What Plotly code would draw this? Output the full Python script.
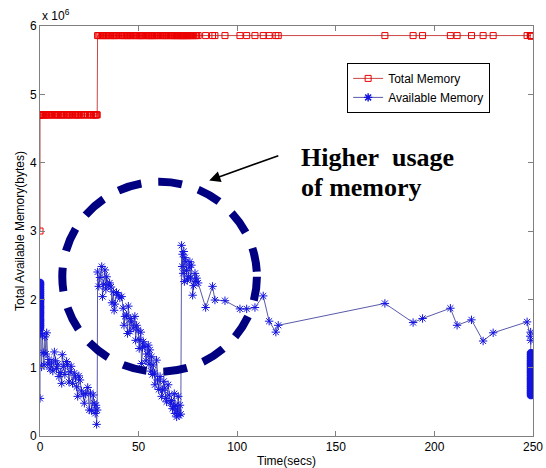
import plotly.graph_objects as go

# ---------------- data (memory values in units of 10^6 bytes) ----------------
# start-up burst at t = 0
seg0_time = [0, 0, 0, 0, 0, 0, 0, 0, 0, 0, 0, 0, 0, 0, 0, 0, 0, 0, 0, 0, 0, 0, 0, 0, 0, 0]
seg0_total = [3.00, 4.70, 4.70, 4.70, 4.70, 4.70, 4.70, 4.70, 4.70, 4.70, 4.70, 4.70, 4.70,
              4.70, 4.70, 4.70, 4.70, 4.70, 4.70, 4.70, 4.70, 4.70, 4.70, 4.70, 4.70, 4.70]
seg0_avail = [0.55, 1.58, 1.61, 1.63, 1.66, 1.69, 1.71, 1.74, 1.77, 1.80, 1.82, 1.85, 1.88,
              1.90, 1.93, 1.96, 1.99, 2.01, 2.04, 2.07, 2.10, 2.13, 2.16, 2.19, 2.22, 2.24]

# first decay (0 - 29 s)
seg1_time = [0.4, 0.8, 1.2, 1.6, 2.0, 2.5, 3.0, 3.4, 4.0, 4.6, 5.1, 5.8, 6.5, 7.3, 7.9, 8.4,
             9.0, 9.6, 10.3, 11.0, 11.3, 12.0, 12.6, 13.5, 14.0, 14.7, 15.2, 15.8, 16.5, 17.4,
             18.0, 18.6, 19.1, 19.7, 20.3, 21.0, 22.0, 22.5, 23.2, 24.2, 25.0, 25.6, 26.2, 27.0,
             27.5, 28.0, 28.4, 28.7, 29.0]
seg1_total = [4.70, 4.70, 4.70, 4.70, 4.70, 4.70, 4.70, 4.70, 4.70, 4.70, 4.70, 4.70, 4.70, 4.70, 4.70, 4.70,
              4.70, 4.70, 4.70, 4.70, 4.70, 4.70, 4.70, 4.70, 4.70, 4.70, 4.70, 4.70, 4.70, 4.70,
              4.70, 4.70, 4.70, 4.70, 4.70, 4.70, 4.70, 4.70, 4.70, 4.70, 4.70, 4.70, 4.70, 4.70,
              4.70, 4.70, 4.70, 4.70, 4.70]
seg1_avail = [1.50, 1.01, 1.48, 1.22, 1.04, 1.45, 1.20, 1.51, 1.05, 1.12, 0.98, 1.07, 0.95, 1.23, 1.10, 0.99,
              1.05, 0.87, 0.93, 0.77, 1.19, 1.02, 0.90, 1.09, 1.05, 0.79, 0.94, 1.02, 0.77, 0.92,
              0.85, 0.72, 0.58, 0.88, 0.82, 0.66, 0.60, 0.48, 0.62, 0.71, 0.38, 0.63, 0.37, 0.60,
              0.48, 0.33, 0.45, 0.17, 0.38]

# second decay (29 - 71.5 s)
seg2_time = [29.2, 29.8, 30.4, 31.3, 31.7, 32.3, 32.9, 33.4, 33.8, 34.6, 35.3, 36.0, 36.5, 37.2,
             37.6, 38.0, 38.8, 39.7, 40.5, 41.4, 42.2, 42.6, 43.1, 43.9, 44.4, 44.8, 45.6, 46.0,
             46.5, 47.3, 48.1, 48.5, 49.0, 49.8, 50.3, 50.7, 51.1, 51.5, 52.0, 52.4, 53.2, 53.8,
             54.3, 54.9, 55.3, 55.7, 56.2, 56.6, 57.0, 57.4, 58.0, 58.3, 59.1, 59.6, 60.2, 60.9,
             61.7, 62.2, 62.8, 63.3, 63.8, 64.2, 65.0, 65.5, 66.2, 66.7, 67.2, 67.6, 68.1, 68.4,
             68.9, 69.3, 69.7, 70.1, 70.5, 71.0, 71.4]
seg2_total = [5.86, 5.86, 5.86, 5.86, 5.86, 5.86, 5.86, 5.86, 5.86, 5.86, 5.86, 5.86, 5.86, 5.86,
              5.86, 5.86, 5.86, 5.86, 5.86, 5.86, 5.86, 5.86, 5.86, 5.86, 5.86, 5.86, 5.86, 5.86,
              5.86, 5.86, 5.86, 5.86, 5.86, 5.86, 5.86, 5.86, 5.86, 5.86, 5.86, 5.86, 5.86, 5.86,
              5.86, 5.86, 5.86, 5.86, 5.86, 5.86, 5.86, 5.86, 5.86, 5.86, 5.86, 5.86, 5.86, 5.86,
              5.86, 5.86, 5.86, 5.86, 5.86, 5.86, 5.86, 5.86, 5.86, 5.86, 5.86, 5.86, 5.86, 5.86,
              5.86, 5.86, 5.86, 5.86, 5.86, 5.86, 5.86]
seg2_avail = [2.40, 2.19, 2.32, 2.48, 2.04, 2.22, 2.43, 2.15, 2.33, 2.21, 2.24, 2.18, 1.95, 2.11,
              1.84, 1.93, 2.10, 2.06, 2.02, 2.04, 1.87, 1.62, 1.75, 1.77, 1.50, 1.90, 1.53, 1.72,
              1.67, 1.58, 1.75, 1.40, 1.62, 1.55, 1.28, 1.41, 1.52, 1.06, 1.30, 1.38, 1.31, 1.10,
              1.20, 1.33, 1.05, 1.26, 0.95, 1.16, 0.90, 1.04, 0.92, 0.75, 1.11, 0.82, 0.68, 0.87,
              0.58, 0.67, 0.80, 0.70, 0.55, 0.50, 0.75, 0.60, 0.48, 0.52, 0.40, 0.43, 0.62, 0.33,
              0.45, 0.28, 0.38, 0.58, 0.30, 0.45, 0.32]

# third burst and the sparse tail (71.8 - 248.9 s)
seg3_time = [71.8, 72.1, 72.3, 72.6, 72.9, 73.2, 73.5, 74.0, 74.3, 74.7, 75.2, 75.6, 76.0, 76.3,
             76.8, 77.4, 77.9, 78.6, 79.0, 79.4, 80.2,
             84.0, 87.5, 88.7, 93.8, 101.4, 104.8, 109.0, 113.2, 116.2, 119.6, 120.8,
             174.9, 189.2, 194.0, 208.1, 211.5, 218.8, 224.7, 229.8, 247.0,
             248.6, 248.8, 248.9]
seg3_total = [5.86, 5.86, 5.86, 5.86, 5.86, 5.86, 5.86, 5.86, 5.86, 5.86, 5.86, 5.86, 5.86, 5.86,
              5.86, 5.86, 5.86, 5.86, 5.86, 5.86, 5.86,
              5.86, 5.86, 5.86, 5.86, 5.86, 5.86, 5.86, 5.86, 5.86, 5.86, 5.86,
              5.86, 5.86, 5.86, 5.86, 5.86, 5.86, 5.86, 5.86, 5.86,
              5.86, 5.86, 5.86]
seg3_avail = [2.79, 2.48, 2.66, 2.38, 2.70, 2.26, 2.61, 2.55, 2.42, 2.28, 2.33, 2.47, 2.55, 2.31,
              2.50, 2.06, 2.20, 2.38, 2.26, 2.31, 2.24,
              1.88, 2.19, 1.99, 1.98, 1.86, 1.86, 1.88, 2.05, 1.68, 1.52, 1.62,
              1.94, 1.66, 1.72, 1.87, 1.62, 1.70, 1.39, 1.51, 1.67,
              1.46, 1.52, 1.40]

# final burst at t = 249
seg4_time = [249, 249, 249, 249, 249, 249, 249, 249, 249, 249, 249, 249, 249, 249, 249, 249,
             249, 249, 249, 249, 249, 249, 249]
seg4_total = [5.86, 5.86, 5.86, 5.86, 5.86, 5.86, 5.86, 5.86, 5.86, 5.86, 5.86, 5.86, 5.86,
              5.86, 5.86, 5.86, 5.86, 5.86, 5.86, 5.86, 5.86, 5.86, 5.86]
seg4_avail = [1.21, 1.18, 1.15, 1.12, 1.09, 1.06, 1.04, 1.01, 0.98, 0.95, 0.93, 0.90, 0.87,
              0.84, 0.82, 0.79, 0.76, 0.73, 0.71, 0.68, 0.65, 0.63, 0.60]

x_ticks = [0, 50, 100, 150, 200, 250]
y_ticks = [0, 1, 2, 3, 4, 5, 6]
y_tick_labels = ["0", "1", "2", "3", "4", "5", "6"]

time_secs = seg0_time + seg1_time + seg2_time + seg3_time + seg4_time
total_memory = seg0_total + seg1_total + seg2_total + seg3_total + seg4_total
available_memory = seg0_avail + seg1_avail + seg2_avail + seg3_avail + seg4_avail

# burst samples overlap so densely that they render as a solid bar: draw them with heavier strokes
burst_stroke = ([1] + [3] * (len(seg0_time) - 1)
                + [1] * (len(seg1_time) + len(seg2_time) + len(seg3_time))
                + [3] * len(seg4_time))

# ---------------- figure ----------------
fig = go.Figure()

fig.add_trace(go.Scatter(
    x=time_secs, y=total_memory, mode="lines+markers", name="Total Memory",
    line=dict(color="rgb(205,70,70)", width=1),
    marker=dict(symbol="square-open", size=6, color="rgb(235,0,0)", line=dict(width=1)),
))
fig.add_trace(go.Scatter(
    x=time_secs, y=available_memory, mode="lines+markers", name="Available Memory",
    line=dict(color="rgb(90,90,170)", width=1),
    marker=dict(symbol="asterisk-open", size=7, color="rgb(20,20,225)",
                line=dict(width=burst_stroke)),
))

# dashed ellipse highlighting the region
fig.add_shape(type="circle", xref="x", yref="y", x0=11.3, x1=110, y0=0.94, y1=3.72,
              line=dict(color="#000080", width=8, dash="24px,17px"))

axis_font = dict(family="Liberation Sans, Arial, sans-serif", size=12, color="black")
serif_font = dict(family="Liberation Serif, Times New Roman, serif", size=26, color="black")

fig.update_layout(
    width=546, height=468,
    margin=dict(l=40, r=13, t=26, b=32),
    paper_bgcolor="white", plot_bgcolor="white",
    showlegend=True,
    legend=dict(x=0.623, y=0.91, xanchor="left", yanchor="top",
                bgcolor="white", bordercolor="black", borderwidth=1,
                font=dict(family="Liberation Sans, Arial, sans-serif", size=12, color="black"),
                itemwidth=30, tracegroupgap=0),
    font=axis_font,
    annotations=[
        dict(x=85.8, y=3.74, ax=121.6, ay=4.11, xref="x", yref="y", axref="x", ayref="y",
             text="", showarrow=True, arrowhead=2, arrowsize=1.4, arrowwidth=1.6,
             arrowcolor="black"),
        dict(x=131.5, y=4.07, xref="x", yref="y", xanchor="left", yanchor="middle",
             text="<b>Higher&nbsp; usage</b>", showarrow=False, font=serif_font),
        dict(x=131.5, y=3.63, xref="x", yref="y", xanchor="left", yanchor="middle",
             text="<b>of memory</b>", showarrow=False, font=serif_font),
        dict(x=0, y=1.026, xref="paper", yref="paper", xanchor="left", yanchor="middle",
             text="x 10<sup>6</sup>", showarrow=False, font=axis_font),
    ],
)

fig.update_xaxes(
    range=[0, 250], tickvals=x_ticks, ticks="inside", ticklen=5, tickcolor="#808080",
    showline=True, linecolor="#808080", linewidth=1, mirror="ticks",
    showgrid=False, zeroline=False, tickfont=axis_font, automargin=False,
    title=dict(text="Time(secs)", font=axis_font, standoff=4),
)
fig.update_yaxes(
    range=[0, 6], tickvals=y_ticks, ticktext=y_tick_labels, ticks="inside", ticklen=5,
    tickcolor="#808080", showline=True, linecolor="#808080", linewidth=1, mirror="ticks",
    showgrid=False, zeroline=False, tickfont=axis_font, automargin=False,
    title=dict(text="Total Available Memory(bytes)", font=axis_font, standoff=2),
)

fig.write_html("out.html")
